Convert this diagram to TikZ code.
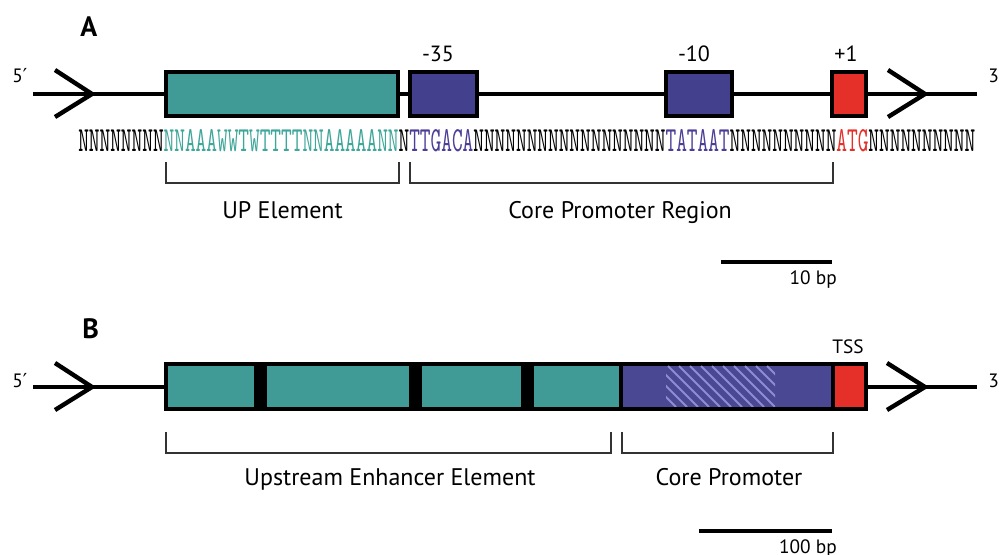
\documentclass[tikz,border=0pt]{standalone}
\usepackage{fontspec}
\setmainfont{PT Sans}
\newfontfamily\dejavu{DejaVu Sans}
\setmonofont{Latin Modern Mono}
\definecolor{tealfill}{HTML}{409A95}
\definecolor{tealtext}{HTML}{3FA69A}
\definecolor{purpfill}{HTML}{43418E}
\definecolor{purpfillb}{HTML}{4A4893}
\definecolor{purptext}{HTML}{4A3E96}
\definecolor{redfill}{HTML}{E5302A}
\definecolor{hatchcol}{HTML}{8E8CD2}
\definecolor{brackcol}{HTML}{333333}
\newcommand\panelfont{\fontsize{21}{25}\selectfont\bfseries}
\newcommand\lblfont{\fontsize{16.5}{19}\selectfont}
\newcommand\brfont{\fontsize{18}{21}\selectfont}
\newcommand\smallfont{\fontsize{14.5}{17}\selectfont}
\tikzset{
  dna/.style={line width=3pt, black},
  chev/.style={line width=3.3pt, black, line join=miter},
  boxa/.style={draw=black, line width=3.2pt, inner sep=0, minimum height={44*0.75pt}},
  seg/.style={inner sep=0, minimum height={41*0.75pt}},
  brack/.style={line width=1.5pt, brackcol},
  scalebar/.style={line width=3.3pt, black},
  lbl/.style={inner sep=0, font=\lblfont},
  brlbl/.style={inner sep=0, font=\brfont, anchor=base},
}
\begin{document}
\begin{tikzpicture}[x=0.75pt,y=-0.75pt]
\useasboundingbox (0,0) rectangle (999,555);
\fill[white] (0,0) rectangle (999,555);

% ---------------- Panel A ----------------
\node[lbl, anchor=base west, font=\panelfont] (labA) at (80,37) {A};
\coordinate (a5) at (33,94);
\coordinate (a3) at (977,94);
\draw[dna] (a5) -- (a3);
\draw[chev] (55,70) -- (92,94) -- (55,117);
\draw[chev] (888,70) -- (925,94) -- (888,117);
\node[lbl, anchor=base west, font=\smallfont] (a5l) at (12,83) {5{\dejavu ′}};
\node[lbl, anchor=base west, font=\smallfont] (a3l) at (988,83) {3{\dejavu ′}};

\node[boxa, fill=tealfill, minimum width={232*0.75pt}] (up) at (282,94) {};
\node[boxa, fill=purpfill, minimum width={67*0.75pt}] (m35) at (443.5,94) {};
\node[boxa, fill=purpfill, minimum width={66*0.75pt}] (m10) at (699,94) {};
\node[boxa, fill=redfill, minimum width={34*0.75pt}] (p1) at (849,94) {};

\node[lbl, anchor=base] (l35) at (438,62) {-35};
\node[lbl, anchor=base] (l10) at (694,62) {-10};
\node[lbl, anchor=base] (lp1) at (846,62) {+1};

\node[inner sep=0, anchor=base west] (seq) at (78,152) {\resizebox{672.75pt}{16.5pt}{\ttfamily
NNNNNNNN\textcolor{tealtext}{NNAAAWWTWTTTTNNAAAAANN}N\textcolor{purptext}{TTGACA}NNNNNNNNNNNNNNNNNN\textcolor{purptext}{TATAAT}NNNNNNNNNN\textcolor{redfill}{ATG}NNNNNNNNNN}};

\draw[brack] (166,162) -- (166,183) -- (399,183) -- (399,162);
\draw[brack] (410,162) -- (410,183) -- (833,183) -- (833,162);
\node[brlbl] (upl) at (282.5,219) {UP Element};
\node[brlbl] (cprl) at (620,219) {Core Promoter Region};

\coordinate (sba1) at (721,262);
\coordinate (sba2) at (832,262);
\draw[scalebar] (sba1) -- (sba2);
\node[lbl, anchor=base east, font=\smallfont] (sbal) at (837,285) {10 bp};

% ---------------- Panel B ----------------
\node[lbl, anchor=base west, font=\panelfont] (labB) at (82,339) {B};
\coordinate (b5) at (33,387);
\coordinate (b3) at (977,387);
\draw[dna] (b5) -- (b3);
\draw[chev] (55,363) -- (92,387) -- (55,410);
\draw[chev] (887,363) -- (925,387) -- (887,410);
\node[lbl, anchor=base west, font=\smallfont] (b5l) at (12,388) {5{\dejavu ′}};
\node[lbl, anchor=base west, font=\smallfont] (b3l) at (988,388) {3{\dejavu ′}};

\node[inner sep=0, fill=black, minimum width={704*0.75pt}, minimum height={49*0.75pt}] (bbox) at (516,386.5) {};
\node[seg, fill=tealfill, minimum width={86*0.75pt}] (t1) at (211,386.5) {};
\node[seg, fill=tealfill, minimum width={142*0.75pt}] (t2) at (338,386.5) {};
\node[seg, fill=tealfill, minimum width={99*0.75pt}] (t3) at (471.5,386.5) {};
\node[seg, fill=tealfill, minimum width={85*0.75pt}] (t4) at (576.5,386.5) {};
\node[seg, fill=purpfillb, minimum width={208*0.75pt}] (cp) at (727,386.5) {};
\node[seg, fill=redfill, minimum width={29*0.75pt}] (tss) at (849.5,386.5) {};
\begin{scope}
  \clip (666,366) rectangle (775,407);
  \foreach \i in {0,...,14} {
    \draw[hatchcol, line width=1.4pt] ({624+\i*11},366) -- ({665+\i*11},407);
  }
\end{scope}
\node[lbl, anchor=base, font=\smallfont] (tssl) at (848,354) {TSS};

\draw[brack] (166,432) -- (166,453) -- (611,453) -- (611,432);
\draw[brack] (622,432) -- (622,453) -- (833,453) -- (833,432);
\node[brlbl] (uel) at (390,485) {Upstream Enhancer Element};
\node[brlbl] (cpl) at (729,485) {Core Promoter};

\coordinate (sbb1) at (699,531);
\coordinate (sbb2) at (832,531);
\draw[scalebar] (sbb1) -- (sbb2);
\node[lbl, anchor=base east, font=\smallfont] (sbbl) at (837,553) {100 bp};
\end{tikzpicture}
\end{document}
